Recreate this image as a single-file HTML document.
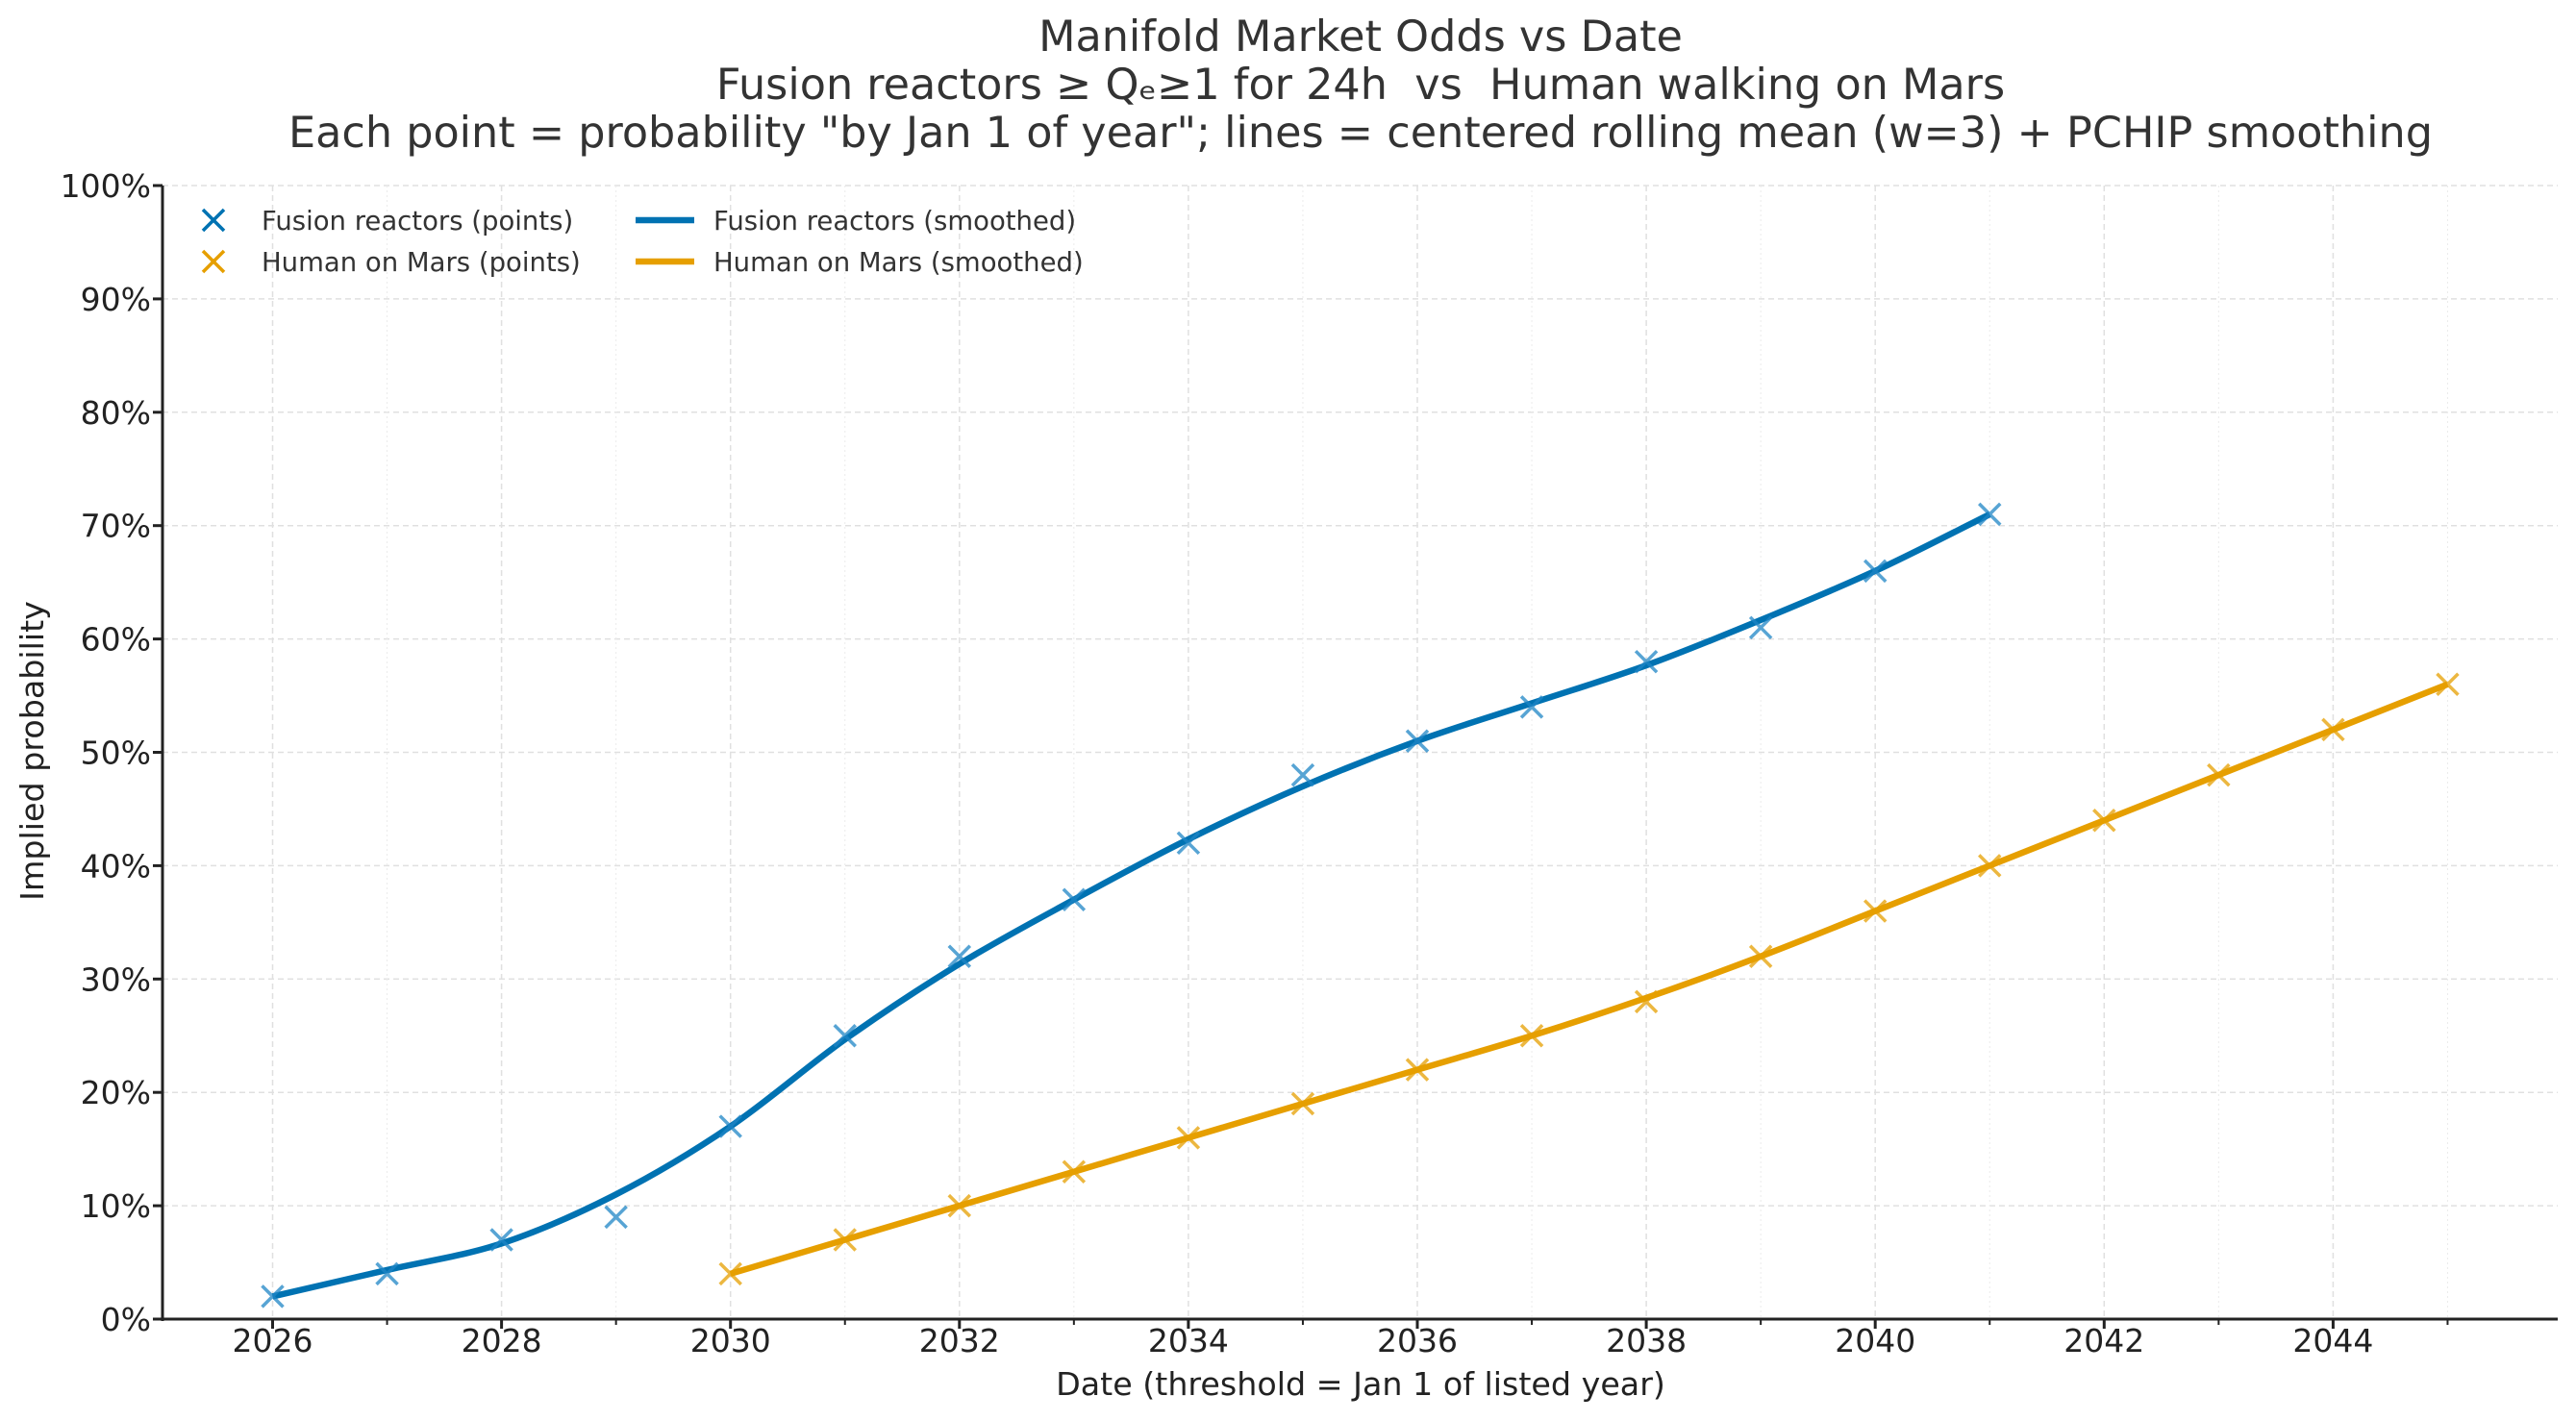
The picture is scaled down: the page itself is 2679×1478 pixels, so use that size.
<!DOCTYPE html>
<html><head><meta charset="utf-8"><style>
html,body{margin:0;padding:0;background:#fff}
svg{display:block;font-family:"DejaVu Sans","Liberation Sans",sans-serif}
</style></head><body>
<svg id="c" width="2679" height="1478" viewBox="0 0 2679 1478" xmlns="http://www.w3.org/2000/svg">
<rect width="2679" height="1478" fill="#fff"/>
<g fill="#333" font-size="44.5" text-anchor="middle">
<text x="1415" y="53">Manifold Market Odds vs Date</text>
<text x="1415" y="103">Fusion reactors ≥ Qₑ≥1 for 24h &#160;vs &#160;Human walking on Mars</text>
<text x="1415" y="153">Each point = probability "by Jan 1 of year"; lines = centered rolling mean (w=3) + PCHIP smoothing</text>
</g>
<g id="grid"></g>
<g id="data"></g>
<g id="axes"></g>
<text x="1415" y="1451" font-size="33.3" fill="#222" text-anchor="middle">Date (threshold = Jan 1 of listed year)</text>
<text transform="translate(45,781) rotate(-90)" font-size="33.3" fill="#222" text-anchor="middle">Implied probability</text>
<g font-size="27.5" fill="#333">
<g stroke="#0072B2" stroke-width="3.5"><line x1="211" y1="218" x2="233" y2="240"/><line x1="233" y1="218" x2="211" y2="240"/></g>
<g stroke="#E69F00" stroke-width="3.5"><line x1="211" y1="261" x2="233" y2="283"/><line x1="233" y1="261" x2="211" y2="283"/></g>
<text x="272" y="239">Fusion reactors (points)</text>
<text x="272" y="282">Human on Mars (points)</text>
<line x1="661" y1="229" x2="722" y2="229" stroke="#0072B2" stroke-width="6.5"/>
<line x1="661" y1="272" x2="722" y2="272" stroke="#E69F00" stroke-width="6.5"/>
<text x="742" y="239">Fusion reactors (smoothed)</text>
<text x="742" y="282">Human on Mars (smoothed)</text>
</g>
</svg>
<script>
const NS="http://www.w3.org/2000/svg";
const X=y=>283.5+(y-2026)*119.05, Y=p=>1372-p*11.79;
const L=169,R=2660,T=193,B=1372;
function el(p,t,a,txt){const e=document.createElementNS(NS,t);for(const k in a)e.setAttribute(k,a[k]);if(txt!==undefined)e.textContent=txt;p.appendChild(e);return e;}
const g=document.getElementById('grid'),ax=document.getElementById('axes'),d=document.getElementById('data');
for(let p=10;p<=100;p+=10)el(g,'line',{x1:L,x2:R,y1:Y(p),y2:Y(p),stroke:'#e0e0e0','stroke-width':1.5,'stroke-dasharray':'6 4'});
for(let y=2026;y<=2045;y++){const maj=(y%2==0);el(g,'line',{x1:X(y),x2:X(y),y1:T,y2:B,stroke:maj?'#e0e0e0':'#ececec','stroke-width':maj?1.5:1,'stroke-dasharray':maj?'6 4':'2 3'});}
el(ax,'line',{x1:L,x2:L,y1:T,y2:B+2,stroke:'#222','stroke-width':3});
el(ax,'line',{x1:L-2,x2:R,y1:B,y2:B,stroke:'#222','stroke-width':3});
for(let p=0;p<=100;p+=10){el(ax,'line',{x1:L-10,x2:L,y1:Y(p),y2:Y(p),stroke:'#222','stroke-width':3});el(ax,'text',{x:L-12,y:Y(p)+12,'font-size':33,fill:'#222','text-anchor':'end'},p+'%');}
for(let y=2026;y<=2045;y++){const maj=(y%2==0);el(ax,'line',{x1:X(y),x2:X(y),y1:B,y2:B+(maj?10:6),stroke:'#222','stroke-width':maj?3:2});if(maj)el(ax,'text',{x:X(y),y:1406,'font-size':33,fill:'#222','text-anchor':'middle'},y);}
function smooth(pts){let s=`M${pts[0][0]},${pts[0][1]}`;for(let i=0;i<pts.length-1;i++){const p0=pts[i-1]||pts[i],p1=pts[i],p2=pts[i+1],p3=pts[i+2]||p2;const c1=[p1[0]+(p2[0]-p0[0])/6,p1[1]+(p2[1]-p0[1])/6],c2=[p2[0]-(p3[0]-p1[0])/6,p2[1]-(p3[1]-p1[1])/6];s+=` C${c1[0]},${c1[1]} ${c2[0]},${c2[1]} ${p2[0]},${p2[1]}`;}return s;}
const fp=[2,4,7,9,17,25,32,37,42,48,51,54,58,61,66,71];
const fs=[2,4.33,6.67,11,17,24.67,31.33,37,42.33,47,51,54.33,57.67,61.67,66,71];
const mp=[4,7,10,13,16,19,22,25,28,32,36,40,44,48,52,56];
const ms=[4,7,10,13,16,19,22,25,28.33,32,36,40,44,48,52,56];
el(d,'path',{d:smooth(fs.map((v,i)=>[X(2026+i),Y(v)])),fill:'none',stroke:'#0072B2','stroke-width':6.5,'stroke-linejoin':'round'});
el(d,'path',{d:smooth(ms.map((v,i)=>[X(2030+i),Y(v)])),fill:'none',stroke:'#E69F00','stroke-width':6.5,'stroke-linejoin':'round'});
function mk(x,y,c){const s=11;el(d,'path',{d:`M${x-s},${y-s}L${x+s},${y+s}M${x+s},${y-s}L${x-s},${y+s}`,stroke:c,'stroke-width':3.5,'stroke-opacity':0.75});}
fp.forEach((v,i)=>mk(X(2026+i),Y(v),'#1f86c5'));
mp.forEach((v,i)=>mk(X(2030+i),Y(v),'#E69F00'));
</script>
</body></html>
